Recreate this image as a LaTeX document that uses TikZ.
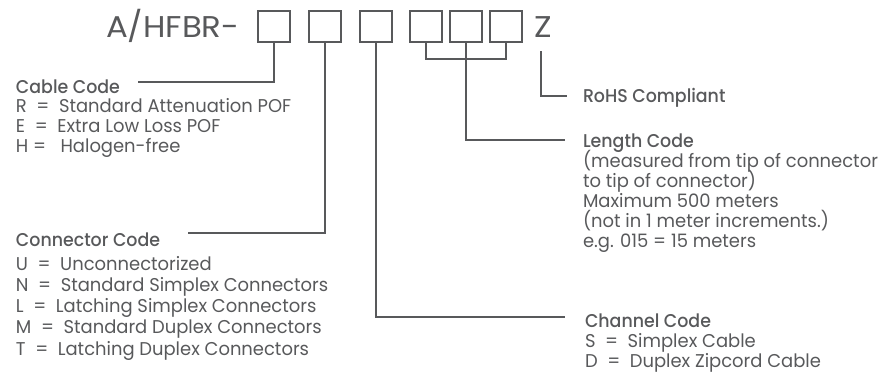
\documentclass[tikz,border=0pt]{standalone}
\usepackage{fontspec}
\setmainfont{Poppins}[FakeStretch=0.97,BoldFont=*-Medium,BoldFeatures={FakeStretch=0.94}]
\newfontfamily\titlefont{Poppins}[FakeStretch=1.08]
\definecolor{ink}{HTML}{58595B}
\begin{document}
\begin{tikzpicture}[x=1pt,y=-1pt,
  every node/.style={inner sep=0pt,outer sep=0pt,text=ink},
  cell/.style={draw=ink,line width=2.2pt,minimum width=32pt,minimum height=31pt,anchor=north west},
  lead/.style={draw=ink,line width=1.7pt},
  head/.style={anchor=base west,font=\fontsize{18.5}{20}\selectfont\bfseries},
  item/.style={anchor=base west,font=\fontsize{18.5}{20}\selectfont},
  big/.style={anchor=base west,font=\titlefont\fontsize{30}{31}\selectfont}]
\useasboundingbox (0,0) rectangle (881,376);
% part number
\node[big] (title) at (106,37) {A/HFBR-};
\node[cell] (b1) at (258,11) {};
\node[cell] (b2) at (309,11) {};
\node[cell] (b3) at (360,11) {};
\node[cell] (b4) at (410,11) {};
\node[cell] (b5) at (450,11) {};
\node[cell] (b6) at (490,11) {};
\node[big] (z) at (534,37) {Z};
% cable code
\node[head] (cable) at (16,93) {Cable Code};
\node[item] (r) at (16,112) {R~~=~~Standard Attenuation POF};
\node[item] (e) at (16,132) {E~~=~~Extra Low Loss POF};
\node[item] (h) at (16,152) {H =~~~Halogen-free};
% connector code
\node[head] (conn) at (16,246) {Connector Code};
\node[item] (u) at (16,270) {U~~=~~Unconnectorized};
\node[item] (n) at (16,291.5) {N~~=~~Standard Simplex Connectors};
\node[item] (l) at (16,312.5) {L~~=~~Latching Simplex Connectors};
\node[item] (m) at (16,333.5) {M~~=~~Standard Duplex Connectors};
\node[item] (t) at (16,355) {T~~=~~Latching Duplex Connectors};
% rohs
\node[head] (rohs) at (583,102) {RoHS Compliant};
% length code
\node[head] (len) at (583,147) {Length Code};
\node[item] (l1) at (583,167) {(measured from tip of connector};
\node[item] (l2) at (583,187) {to tip of connector)};
\node[item] (l3) at (583,207) {Maximum 500 meters};
\node[item] (l4) at (583,227) {(not in 1 meter increments.)};
\node[item] (l5) at (583,247) {e.g. 015 = 15 meters};
% channel code
\node[head] (chan) at (585,327) {Channel Code};
\node[item] (s) at (585,347) {S~~=~~Simplex Cable};
\node[item] (d) at (585,367) {D~~=~~Duplex Zipcord Cable};
% leader end points
\coordinate (ecab) at (138,82);
\coordinate (econ) at (188,233);
\coordinate (echan) at (565,317);
\coordinate (elen) at (565,140);
\coordinate (erohs) at (567,96);
\coordinate (zt) at (541,51);
\coordinate (brk) at (466,59);
% leaders
\draw[lead] (b1.south) |- (ecab);
\draw[lead] (b2.south) |- (econ);
\draw[lead] (b3.south) |- (echan);
\draw[lead] (b4.south) |- (brk) -| (b6.south);
\draw[lead] (b5.south) |- (elen);
\draw[lead] (zt) |- (erohs);
\end{tikzpicture}
\end{document}
